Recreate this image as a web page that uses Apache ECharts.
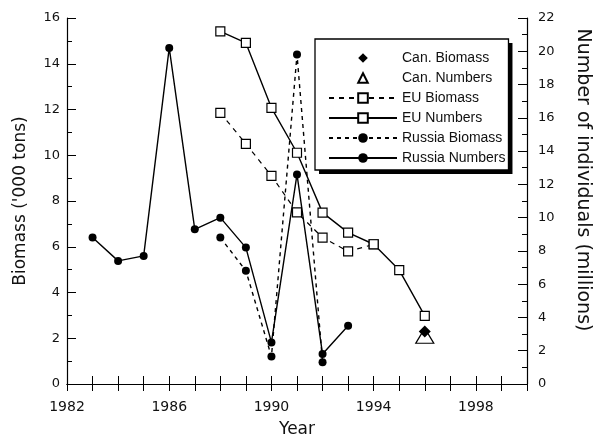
<!DOCTYPE html>
<html>
<head>
<meta charset="utf-8">
<script src="https://cdn.jsdelivr.net/npm/echarts@6/dist/echarts.min.js"></script>
<style>
  html, body { margin: 0; padding: 0; background: #fff; }
  #chart { width: 593px; height: 439px; }
</style>
</head>
<body>
<div id="chart"></div>
<script>
// years and values
var russiaYears = [1983, 1984, 1985, 1986, 1987, 1988, 1989, 1990, 1991, 1992, 1993]
var russiaNumbers = [8.8, 7.4, 7.7, 20.2, 9.3, 10.0, 8.2, 2.5, 12.6, 1.8, 3.5]
var russiaBioYears = [1988, 1989, 1990, 1991, 1992]
var russiaBiomass = [6.4, 4.95, 1.2, 14.4, 0.95]
var euYears = [1988, 1989, 1990, 1991, 1992, 1993, 1994, 1995, 1996]
var euNumbers = [21.2, 20.5, 16.6, 13.9, 10.3, 9.1, 8.4, 6.85, 4.1]
var euBioYears = [1988, 1989, 1990, 1991, 1992, 1993, 1994]
var euBiomass = [11.85, 10.5, 9.1, 7.5, 6.4, 5.8, 6.1]
var canYears = [1996]
var canBiomass = [2.3]
var canNumbers = [2.9]
var legendNames = ['Can. Biomass', 'Can. Numbers', 'EU Biomass', 'EU Numbers', 'Russia Biomass', 'Russia Numbers']

function pairs(xs, ys) {
  return xs.map(function(x, i) { return [x, ys[i]] })
}

var font = 'Liberation Sans, Arial, sans-serif'
var wide = 'DejaVu Sans, sans-serif'
var ink = '#111'

var legendBase = {
  orient: 'vertical',
  left: 315,
  top: 39,
  padding: [12, 3, 5, 13],
  itemWidth: 68,
  itemHeight: 12,
  itemGap: 6,
  textStyle: { fontFamily: font, fontSize: 14, color: ink },
  data: legendNames
}

var myChart = echarts.init(document.getElementById('chart'))
var option = {
  animation: false,
  backgroundColor: '#fff',
  textStyle: { fontFamily: font, color: ink },
  grid: { left: 67, right: 66, top: 18, bottom: 55, outerBoundsMode: 'none', containLabel: false },
  legend: [
    // the real legend, framed
    Object.assign({}, legendBase, {
      z: 12,
      backgroundColor: '#fff',
      borderColor: '#000',
      borderWidth: 1.3
    }),
    // same box underneath, only used for its hard drop shadow
    Object.assign({}, legendBase, {
      z: 11,
      selectedMode: false,
      backgroundColor: '#fff',
      borderWidth: 0,
      shadowColor: '#000',
      shadowBlur: 0,
      shadowOffsetX: 4,
      shadowOffsetY: 4
    })
  ],
  xAxis: [{
    type: 'value',
    min: 1982,
    max: 2000,
    interval: 1,
    name: 'Year',
    nameLocation: 'middle',
    nameGap: 37,
    nameTextStyle: { fontFamily: wide, fontSize: 17, color: ink },
    axisLine: { lineStyle: { color: '#000', width: 1.2 } },
    axisTick: { inside: true, length: 8, lineStyle: { color: '#000' } },
    axisLabel: {
      fontFamily: wide,
      fontSize: 14,
      color: ink,
      margin: 16,
      formatter: function(v) { return (v - 1982) % 4 === 0 ? String(v) : '' }
    },
    splitLine: { show: false }
  }, {
    type: 'value',
    position: 'top',
    min: 1982,
    max: 2000,
    interval: 1,
    axisLine: { show: true, lineStyle: { color: '#000', width: 1.2 } },
    axisTick: { inside: true, length: 7, lineStyle: { color: '#000' } },
    axisLabel: { show: false },
    splitLine: { show: false }
  }],
  yAxis: [{
    type: 'value',
    min: 0,
    max: 16,
    interval: 2,
    name: "Biomass ('000 tons)",
    nameLocation: 'middle',
    nameGap: 38,
    nameTextStyle: { fontFamily: wide, fontSize: 17, color: ink },
    axisLine: { show: true, lineStyle: { color: '#000', width: 1.2 } },
    axisTick: { inside: true, length: 9, lineStyle: { color: '#000' } },
    minorTick: { show: true, splitNumber: 2, length: 5, lineStyle: { color: '#000' } },
    axisLabel: { fontFamily: wide, fontSize: 13, color: ink, margin: 7 },
    splitLine: { show: false }
  }, {
    type: 'value',
    position: 'right',
    min: 0,
    max: 22,
    interval: 2,
    name: 'Number of individuals (millions)',
    nameLocation: 'middle',
    nameRotate: -90,
    nameGap: 46,
    nameTextStyle: { fontFamily: wide, fontSize: 19, color: ink, padding: [0, 42, 0, 0] },
    axisLine: { show: true, lineStyle: { color: '#000', width: 1.2 } },
    axisTick: { inside: true, length: 9, lineStyle: { color: '#000' } },
    minorTick: { show: true, splitNumber: 2, length: 5, lineStyle: { color: '#000' } },
    axisLabel: { fontFamily: wide, fontSize: 13, color: ink, margin: 11 },
    splitLine: { show: false }
  }],
  series: [{
    name: 'Can. Biomass',
    type: 'line',
    yAxisIndex: 0,
    symbol: 'diamond',
    symbolSize: 12,
    lineStyle: { opacity: 0 },
    itemStyle: { color: '#000' },
    data: pairs(canYears, canBiomass),
    z: 5
  }, {
    name: 'Can. Numbers',
    type: 'line',
    yAxisIndex: 1,
    symbol: 'triangle',
    symbolSize: [18, 15],
    lineStyle: { opacity: 0 },
    itemStyle: { color: '#fff', borderColor: '#000', borderWidth: 1.2 },
    data: pairs(canYears, canNumbers),
    z: 4
  }, {
    name: 'EU Biomass',
    type: 'line',
    yAxisIndex: 0,
    symbol: 'rect',
    symbolSize: 9,
    showAllSymbol: true,
    lineStyle: { color: '#000', width: 1.2, type: [5, 5] },
    itemStyle: { color: '#fff', borderColor: '#000', borderWidth: 1.2 },
    data: pairs(euBioYears, euBiomass)
  }, {
    name: 'EU Numbers',
    type: 'line',
    yAxisIndex: 1,
    symbol: 'rect',
    symbolSize: 9,
    showAllSymbol: true,
    lineStyle: { color: '#000', width: 1.4 },
    itemStyle: { color: '#fff', borderColor: '#000', borderWidth: 1.2 },
    data: pairs(euYears, euNumbers)
  }, {
    name: 'Russia Biomass',
    type: 'line',
    yAxisIndex: 0,
    symbol: 'circle',
    symbolSize: 8,
    showAllSymbol: true,
    lineStyle: { color: '#000', width: 1.4, type: [4, 4] },
    itemStyle: { color: '#000' },
    data: pairs(russiaBioYears, russiaBiomass)
  }, {
    name: 'Russia Numbers',
    type: 'line',
    yAxisIndex: 1,
    symbol: 'circle',
    symbolSize: 8,
    showAllSymbol: true,
    lineStyle: { color: '#000', width: 1.4 },
    itemStyle: { color: '#000' },
    data: pairs(russiaYears, russiaNumbers)
  }]
}
myChart.setOption(option)
</script>
</body>
</html>
